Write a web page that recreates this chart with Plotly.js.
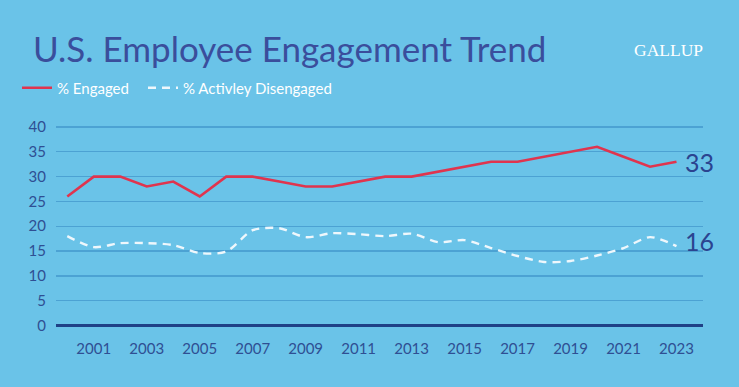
<!DOCTYPE html>
<html>
<head>
<meta charset="utf-8">
<script src="https://cdn.plot.ly/plotly-3.0.1.min.js"></script>
<style>
  html, body { margin: 0; padding: 0; background: #6AC3E8; }
  #chart { width: 739px; height: 387px; }
</style>
</head>
<body>
<div id="chart"></div>
<script>
// ---- data ----
const years = [2000, 2001, 2002, 2003, 2004, 2005, 2006, 2007, 2008, 2009, 2010, 2011,
               2012, 2013, 2014, 2015, 2016, 2017, 2018, 2019, 2020, 2021, 2022, 2023];
const engaged = [26, 30, 30, 28, 29, 26, 30, 30, 29, 28, 28, 29,
                 30, 30, 31, 32, 33, 33, 34, 35, 36, 34, 32, 33];
const activelyDisengaged = [18, 15.8, 16.6, 16.6, 16.2, 14.6, 14.9, 19.2, 19.6, 17.8, 18.6, 18.4,
                            18.0, 18.5, 16.8, 17.2, 15.6, 14.0, 12.8, 13.0, 14.1, 15.6, 17.8, 16.0];
const tickYears = [2001, 2003, 2005, 2007, 2009, 2011, 2013, 2015, 2017, 2019, 2021, 2023];
const yTicks = [0, 5, 10, 15, 20, 25, 30, 35, 40];
const seriesNames = ['% Engaged', '% Activley Disengaged'];

const BG = '#6AC3E8';
const NAVY = '#2F4F93';
const GRID = '#4CA2D3';
const RED = '#E0344E';
const WHITE = '#EEF7FC';

const traces = [
  {
    x: years, y: engaged, name: seriesNames[0], type: 'scatter', mode: 'lines',
    line: {color: RED, width: 2.6},
    legend: 'legend',
    hoverinfo: 'skip'
  },
  {
    x: years, y: activelyDisengaged, name: seriesNames[1], type: 'scatter', mode: 'lines',
    line: {color: WHITE, width: 2.4, dash: '8px,6px', shape: 'spline', smoothing: 0.8},
    legend: 'legend2',
    hoverinfo: 'skip'
  }
];

const legendCommon = {
  orientation: 'h',
  xref: 'container', yref: 'container',
  xanchor: 'left',
  y: 1 - 88 / 387, yanchor: 'middle',
  bgcolor: 'rgba(0,0,0,0)',
  font: {family: 'Lato, sans-serif', size: 15, color: '#FFFFFF'},
  itemwidth: 30
};

const last = years.length - 1;
const layout = {
  width: 739, height: 387,
  paper_bgcolor: BG, plot_bgcolor: BG,
  margin: {l: 56, r: 36, t: 122, b: 58.5, pad: 0},
  font: {family: 'Lato, "Open Sans", sans-serif', color: NAVY, size: 14},
  title: {
    text: 'U.S. Employee Engagement Trend',
    xref: 'container', yref: 'container',
    x: 33 / 739, xanchor: 'left',
    y: 1 - 50 / 387, yanchor: 'middle',
    font: {family: 'Lato, sans-serif', size: 35, color: '#3A4E9C'}
  },
  showlegend: true,
  legend: Object.assign({}, legendCommon, {x: 17 / 739}),
  legend2: Object.assign({}, legendCommon, {x: 143 / 739}),
  xaxis: {
    range: [1999.574, 2024.0],
    tickmode: 'array', tickvals: tickYears, ticktext: tickYears.map(String),
    showgrid: false, zeroline: false, showline: false,
    ticks: '', ticklabelstandoff: 10,
    tickfont: {family: 'Lato, sans-serif', size: 15, color: NAVY},
    fixedrange: true
  },
  yaxis: {
    range: [-0.5, 41],
    tickmode: 'array', tickvals: yTicks, ticktext: yTicks.map(String),
    showgrid: true, gridcolor: GRID, gridwidth: 1.4,
    zeroline: true, zerolinecolor: '#1F4186', zerolinewidth: 2.2,
    showline: false, ticks: '', ticklabelstandoff: 9,
    tickfont: {family: 'Lato, sans-serif', size: 15, color: NAVY},
    fixedrange: true
  },
  annotations: [
    {
      x: years[last], y: engaged[last], xref: 'x', yref: 'y',
      text: String(engaged[last]), showarrow: false,
      xanchor: 'left', yanchor: 'middle', xshift: 6,
      font: {family: 'Lato, sans-serif', size: 25, color: '#2B4490'}
    },
    {
      x: years[last], y: activelyDisengaged[last], xref: 'x', yref: 'y',
      text: String(activelyDisengaged[last]), showarrow: false,
      xanchor: 'left', yanchor: 'middle', xshift: 6, yshift: 5,
      font: {family: 'Lato, sans-serif', size: 25, color: '#2B4490'}
    },
    {
      x: 1.003, y: 1.35, xref: 'paper', yref: 'paper',
      text: 'GALLUP', showarrow: false,
      xanchor: 'right', yanchor: 'middle',
      font: {family: '"Liberation Serif", "DejaVu Serif", serif', size: 17.5, color: '#FFFFFF'}
    }
  ]
};

Plotly.newPlot('chart', traces, layout, {displayModeBar: false, staticPlot: true});
</script>
</body>
</html>
